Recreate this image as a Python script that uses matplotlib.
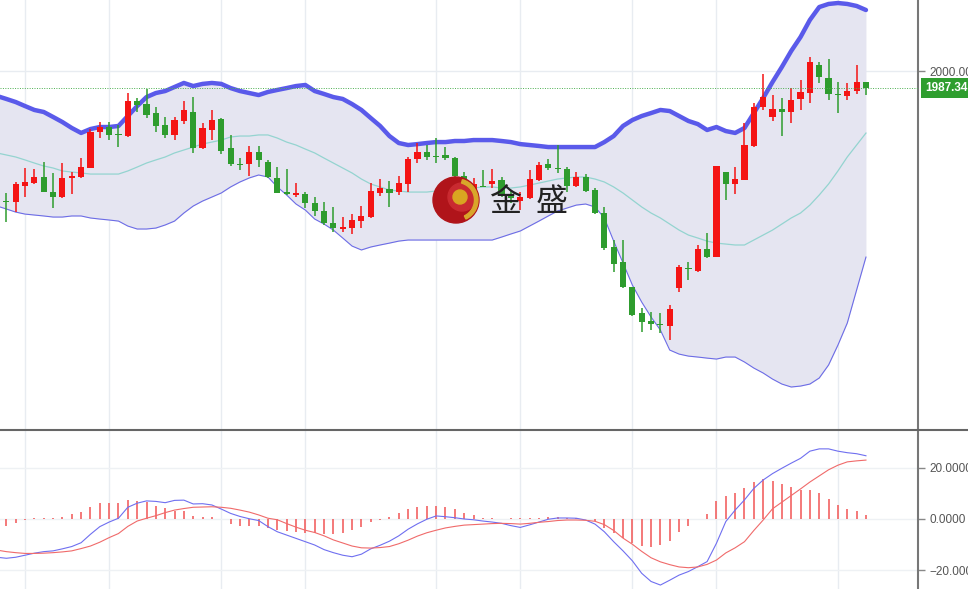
import matplotlib.pyplot as plt
from matplotlib.patches import Circle, Wedge
from matplotlib.lines import Line2D
import numpy as np

# 日K线数据 (开, 高, 低, 收)
opens = [1907.7, 1903.2, 1902.5, 1914.4, 1916.6, 1921.1, 1909.9, 1906.2, 1920.4, 1921.1,
         1927.8, 1954.6, 1958.3, 1953.1, 1951.6, 1977.7, 1975.4, 1968.7, 1959.8, 1952.4,
         1962.8, 1969.5, 1942.7, 1956.1, 1964.3, 1942.7, 1930.8, 1930.8, 1939.7, 1932.3,
         1920.4, 1909.9, 1907.7, 1908.4, 1901.7, 1895.8, 1886.9, 1882.4, 1883.1, 1888.3,
         1891.3, 1909.2, 1912.2, 1909.9, 1915.9, 1934.5, 1939.7, 1936.7, 1937.5, 1935.2,
         1921.8, 1912.2, 1914.4, 1915.9, 1918.9, 1907.7, 1903.2, 1905.5, 1918.9, 1930.8,
         1927.8, 1927.1, 1914.4, 1921.1, 1911.4, 1894.3, 1869.0, 1857.8, 1839.2, 1819.9,
         1813.9, 1811.7, 1810.2, 1838.5, 1853.4, 1851.1, 1867.5, 1861.5, 1924.8, 1915.9,
         1918.9, 1944.2, 1973.2, 1965.8, 1971.7, 1969.5, 1979.2, 1983.6, 2004.5, 1994.8,
         1982.9, 1981.4, 1985.1, 1991.8]
highs = [1909.2, 1909.2, 1917.4, 1927.8, 1927.1, 1932.3, 1924.1, 1931.5, 1924.8, 1935.2,
         1956.8, 1962.0, 1962.0, 1959.8, 1983.6, 1979.9, 1986.6, 1973.2, 1965.8, 1965.8,
         1977.7, 1980.6, 1961.3, 1971.0, 1965.0, 1952.4, 1935.2, 1944.2, 1944.2, 1933.8,
         1928.5, 1927.1, 1916.6, 1909.9, 1906.2, 1902.5, 1898.8, 1891.3, 1893.5, 1899.5,
         1916.6, 1919.6, 1918.1, 1921.8, 1936.0, 1946.4, 1944.9, 1950.1, 1943.4, 1936.0,
         1924.8, 1920.4, 1926.3, 1927.1, 1921.1, 1911.4, 1909.9, 1926.3, 1932.3, 1934.5,
         1944.9, 1928.5, 1924.8, 1923.3, 1912.9, 1898.8, 1874.2, 1874.2, 1839.2, 1823.6,
         1820.6, 1819.9, 1825.8, 1855.6, 1857.8, 1870.5, 1879.4, 1929.3, 1924.8, 1928.5,
         1961.3, 1976.2, 1997.8, 1982.1, 1979.9, 1987.3, 1993.3, 2010.4, 2006.7, 2008.9,
         1991.8, 1991.1, 2004.5, 1991.8]
lows = [1901.0, 1887.6, 1895.0, 1906.2, 1915.9, 1909.9, 1898.0, 1905.5, 1908.4, 1920.4,
        1927.8, 1950.1, 1948.6, 1943.4, 1950.9, 1969.5, 1965.0, 1954.6, 1950.1, 1948.6,
        1960.5, 1939.0, 1941.9, 1948.6, 1938.2, 1929.3, 1926.3, 1921.8, 1928.5, 1920.4,
        1909.2, 1907.7, 1906.2, 1898.0, 1892.1, 1885.4, 1880.2, 1880.2, 1878.7, 1883.1,
        1890.6, 1907.0, 1898.8, 1907.7, 1909.9, 1931.5, 1933.8, 1931.5, 1933.8, 1920.4,
        1911.4, 1911.4, 1913.7, 1912.9, 1906.2, 1901.7, 1896.5, 1904.7, 1918.1, 1926.3,
        1924.1, 1909.9, 1913.7, 1909.9, 1893.5, 1866.8, 1850.4, 1838.5, 1817.6, 1805.7,
        1807.2, 1805.0, 1799.8, 1835.5, 1844.4, 1850.4, 1860.8, 1861.5, 1904.0, 1908.4,
        1918.9, 1943.4, 1971.0, 1962.8, 1951.6, 1961.3, 1971.0, 1976.2, 1991.1, 1978.4,
        1968.7, 1978.4, 1982.9, 1982.1]
closes = [1902.5, 1902.5, 1915.9, 1917.4, 1921.1, 1909.9, 1906.2, 1920.4, 1921.8, 1928.5,
          1954.6, 1958.3, 1952.4, 1952.4, 1977.7, 1974.7, 1967.2, 1959.1, 1952.4, 1963.5,
          1971.0, 1942.7, 1957.6, 1963.5, 1940.5, 1930.8, 1930.0, 1939.7, 1933.8, 1921.1,
          1909.2, 1908.4, 1909.2, 1901.7, 1895.8, 1886.9, 1883.1, 1883.9, 1889.1, 1892.1,
          1910.7, 1912.9, 1909.2, 1916.6, 1934.5, 1939.7, 1936.0, 1936.0, 1935.2, 1921.8,
          1912.9, 1915.9, 1913.7, 1918.1, 1907.7, 1905.5, 1906.2, 1919.6, 1930.0, 1927.8,
          1927.1, 1914.4, 1921.1, 1910.7, 1894.3, 1868.2, 1856.3, 1839.2, 1818.4, 1813.2,
          1811.7, 1811.0, 1822.8, 1854.1, 1852.6, 1867.5, 1861.5, 1929.3, 1915.9, 1919.6,
          1944.9, 1973.2, 1980.6, 1971.7, 1969.5, 1978.4, 1984.4, 2006.7, 1995.5, 1982.9,
          1982.1, 1985.1, 1991.8, 1987.34]

# 布林带 上轨 / 中轨 / 下轨
upper = [1981.4, 1979.2, 1976.9, 1973.9, 1971.0, 1969.5, 1965.8, 1962.0, 1957.6, 1953.9,
         1956.8, 1958.3, 1958.3, 1959.1, 1966.5, 1973.9, 1980.6, 1983.6, 1985.1, 1988.1,
         1991.1, 1988.8, 1990.4, 1991.1, 1990.4, 1987.3, 1985.1, 1983.6, 1982.1, 1984.4,
         1985.9, 1987.3, 1988.8, 1989.6, 1985.1, 1982.9, 1980.6, 1979.2, 1975.4, 1971.0,
         1965.0, 1959.1, 1951.6, 1946.4, 1944.9, 1945.6, 1946.4, 1947.1, 1947.1, 1947.9,
         1947.9, 1948.6, 1948.6, 1948.6, 1947.9, 1947.1, 1945.6, 1944.9, 1944.2, 1943.4,
         1943.4, 1943.4, 1943.4, 1943.4, 1943.4, 1947.1, 1951.6, 1959.1, 1963.5, 1966.5,
         1968.7, 1971.0, 1970.2, 1966.5, 1962.8, 1960.5, 1956.1, 1958.3, 1955.3, 1953.9,
         1957.6, 1968.7, 1979.9, 1991.8, 2003.0, 2014.9, 2025.3, 2038.0, 2047.6, 2049.9,
         2050.6, 2049.9, 2048.4, 2045.4]
middle = [1939.0, 1937.5, 1936.0, 1933.8, 1931.5, 1929.3, 1927.8, 1925.6, 1924.8, 1924.1,
          1923.3, 1923.3, 1923.3, 1923.3, 1925.6, 1928.5, 1931.5, 1933.8, 1936.0, 1939.0,
          1941.2, 1943.4, 1945.7, 1947.1, 1948.6, 1950.9, 1951.6, 1951.6, 1952.4, 1952.4,
          1950.1, 1947.1, 1944.9, 1941.9, 1939.0, 1935.2, 1931.5, 1927.8, 1924.1, 1919.6,
          1915.9, 1913.7, 1911.4, 1910.7, 1909.9, 1909.9, 1909.9, 1910.7, 1911.4, 1911.4,
          1912.2, 1912.9, 1913.7, 1913.7, 1912.9, 1912.9, 1913.7, 1915.1, 1916.6, 1918.1,
          1919.6, 1920.4, 1921.1, 1921.1, 1919.6, 1917.4, 1913.7, 1909.2, 1904.0, 1898.8,
          1894.3, 1890.6, 1886.1, 1881.6, 1877.9, 1875.7, 1873.4, 1871.9, 1871.2, 1870.5,
          1870.5, 1874.2, 1877.9, 1881.6, 1886.1, 1890.6, 1894.3, 1900.2, 1907.7, 1915.9,
          1925.6, 1936.0, 1944.9, 1953.8]
lower = [1899.5, 1897.3, 1895.0, 1893.5, 1892.8, 1892.1, 1891.3, 1891.3, 1892.1, 1892.1,
         1890.6, 1889.8, 1889.1, 1888.3, 1884.6, 1882.4, 1882.4, 1883.1, 1885.4, 1888.3,
         1894.3, 1899.5, 1903.2, 1906.2, 1909.2, 1913.7, 1917.4, 1920.4, 1922.6, 1921.1,
         1913.7, 1907.7, 1901.0, 1896.5, 1889.8, 1886.1, 1881.6, 1875.7, 1869.7, 1866.8,
         1869.0, 1870.5, 1871.9, 1873.4, 1874.2, 1874.2, 1874.2, 1874.2, 1874.2, 1874.2,
         1874.2, 1874.2, 1874.2, 1874.2, 1876.4, 1878.7, 1880.9, 1884.6, 1888.3, 1892.1,
         1895.8, 1898.0, 1900.2, 1901.0, 1898.8, 1890.6, 1873.4, 1857.1, 1840.7, 1828.0,
         1816.9, 1807.2, 1792.3, 1789.3, 1787.8, 1787.1, 1786.3, 1785.6, 1787.1, 1787.1,
         1783.4, 1778.9, 1775.2, 1770.7, 1767.0, 1764.8, 1765.5, 1767.0, 1771.5, 1781.2,
         1796.0, 1812.4, 1837.0, 1861.5]

# MACD: DIF, DEA, 柱
dif = [-15.0, -15.4, -15.0, -14.2, -13.4, -12.8, -12.5, -11.7, -10.8, -9.3,
       -6.0, -3.0, -1.2, 0.3, 4.6, 6.2, 7.1, 6.9, 6.4, 7.3,
       7.4, 5.9, 6.0, 5.5, 3.9, 2.2, 1.0, 0.1, -0.6, -3.0,
       -5.0, -6.3, -7.6, -8.9, -10.2, -12.0, -13.2, -14.2, -14.8, -13.8,
       -11.7, -10.3, -8.7, -6.6, -4.0, -1.9, -0.1, 1.2, 0.9, 0.5,
       0.0, -0.3, -0.8, -1.2, -1.7, -2.6, -3.3, -2.3, -1.2, -0.1,
       0.4, 0.4, 0.3, -0.4, -2.0, -5.0, -8.9, -12.5, -16.4, -21.3,
       -24.5, -25.9, -24.0, -22.0, -20.6, -18.7, -16.7, -9.5, -1.0, 3.5,
       7.5, 12.0, 15.3, 17.8, 19.9, 21.9, 23.8, 26.6, 27.5, 27.5,
       26.6, 26.0, 25.6, 24.8]
dea = [-12.2, -12.8, -13.2, -13.5, -13.5, -13.4, -13.2, -12.9, -12.5, -11.6,
       -10.6, -9.1, -7.3, -5.7, -2.9, -0.8, 0.3, 1.3, 2.5, 3.5,
       4.1, 4.6, 4.7, 4.8, 4.6, 4.2, 3.5, 2.7, 1.6, 0.3,
       -0.3, -1.8, -3.2, -4.4, -5.3, -6.6, -8.2, -9.4, -10.6, -11.3,
       -11.4, -11.2, -10.8, -9.7, -8.3, -6.7, -5.4, -4.4, -3.5, -2.9,
       -2.4, -2.2, -2.0, -1.8, -1.7, -1.8, -2.0, -1.7, -1.3, -1.0,
       -0.6, -0.4, -0.4, -0.5, -0.9, -2.2, -4.5, -7.5, -9.9, -12.7,
       -15.2, -16.8, -17.9, -18.8, -19.1, -18.8, -17.8, -16.1, -13.3, -11.3,
       -8.9, -4.5, -0.4, 4.0, 6.6, 9.2, 11.8, 14.5, 16.9, 19.3,
       21.1, 22.4, 22.8, 23.1]
hist = [-3.0, -2.7, -1.4, -0.3, 0.2, 0.2, 0.3, 0.9, 1.8, 2.9,
        4.6, 6.1, 6.1, 6.1, 7.5, 7.2, 6.8, 5.1, 4.2, 3.3,
        3.3, 1.3, 0.9, 0.9, -0.1, -1.8, -2.9, -2.9, -2.9, -3.5,
        -4.3, -4.8, -5.2, -5.5, -5.5, -5.8, -5.8, -5.5, -4.3, -3.2,
        -1.0, -0.2, 0.9, 2.2, 3.8, 4.8, 5.1, 5.2, 4.8, 3.8,
        2.2, 1.6, 0.5, 0.3, 0.1, 0.3, 0.3, 0.3, 0.5, 0.8,
        0.7, 0.5, 0.4, 0.0, -0.7, -3.7, -5.6, -7.6, -9.5, -10.6,
        -10.8, -10.2, -8.5, -5.0, -2.7, -0.1, 1.8, 7.1, 9.0, 10.3,
        12.0, 14.6, 15.6, 15.0, 13.7, 12.7, 11.4, 11.4, 10.3, 7.8,
        5.5, 3.8, 3.1, 1.6]

# 竖向网格所在的K线序号
grid_idx = [3, 12, 24, 33, 47, 56, 68, 77, 90]
last_price = closes[-1]

plt.rcParams['font.family'] = ['Liberation Sans', 'DejaVu Sans']

W, H = 968, 589
fig = plt.figure(figsize=(W / 100, H / 100), dpi=100)
fig.patch.set_facecolor('white')

ax = fig.add_axes([0, 159 / H, 918 / W, 430 / H])
axm = fig.add_axes([0, 0, 918 / W, 159 / H])

idx = np.arange(len(closes))
x_left, x_right = 0.32, 98.57

# ---- 主图 ----
for g in grid_idx:
    ax.axvline(g, color='#e8ecf1', lw=1, zorder=0)
ax.axhline(2000, color='#e8ecf1', lw=1, zorder=0)

ax.fill_between(idx, lower, upper, color='#e5e5f1', lw=0, zorder=1)
ax.plot(idx, upper, color='#5a5aea', lw=3.2, zorder=2, solid_capstyle='round')
ax.plot(idx, middle, color='#94d4d0', lw=0.9, zorder=2)
ax.plot(idx, lower, color='#6c6ce6', lw=0.8, zorder=2)

cols = ['#f41414' if c >= o else '#2e9c2e' for o, c in zip(opens, closes)]
bottoms = [min(o, c) for o, c in zip(opens, closes)]
heights = [max(abs(c - o), 0.9) for o, c in zip(opens, closes)]
ax.vlines(idx, lows, highs, colors=cols, lw=1.1, zorder=3)
ax.bar(idx, heights, bottom=bottoms, width=0.66, color=cols, lw=0, zorder=4)

ax.axhline(last_price, color='#4caf50', lw=0.7, ls=(0, (1, 1.5)), zorder=5)

ax.set_xlim(x_left, x_right)
ax.set_ylim(1732.8, 2052.85)
ax.set_xticks([])
ax.yaxis.tick_right()
ax.set_yticks([2000])
ax.set_yticklabels(['2000.00'])
ax.tick_params(axis='y', length=5, width=1, color='#888888', labelcolor='#555555',
               labelsize=8.5, pad=3)
for s in ['top', 'left', 'bottom']:
    ax.spines[s].set_visible(False)
ax.spines['right'].set_color('#777777')
ax.spines['right'].set_linewidth(1.5)

ax.annotate('1987.34', xy=(1, last_price), xycoords=('axes fraction', 'data'),
            xytext=(5, 0), textcoords='offset points', ha='left', va='center',
            color='white', fontsize=8.5, fontweight='bold', annotation_clip=False,
            bbox=dict(boxstyle='square,pad=0.3', fc='#2f9e2f', ec='none'))

# ---- MACD ----
for g in grid_idx:
    axm.axvline(g, color='#e8ecf1', lw=1, zorder=0)
for h in [-20, 0, 20]:
    axm.axhline(h, color='#eef1f4', lw=1, zorder=0)
axm.vlines(idx, 0, hist, colors='#f26262', lw=1.2, zorder=2)
axm.plot(idx, dif, color='#6f6ff0', lw=0.8, zorder=3)
axm.plot(idx, dea, color='#f06a6a', lw=0.8, zorder=3)

axm.set_xlim(x_left, x_right)
axm.set_ylim(-27.45, 34.9)
axm.set_xticks([])
axm.yaxis.tick_right()
axm.set_yticks([-20, 0, 20])
axm.set_yticklabels(['\u221220.0000', '0.0000', '20.0000'])
axm.tick_params(axis='y', length=5, width=1, color='#888888', labelcolor='#555555',
                labelsize=8.5, pad=3)
for s in ['top', 'left', 'bottom']:
    axm.spines[s].set_visible(False)
axm.spines['right'].set_color('#777777')
axm.spines['right'].set_linewidth(1.5)

# 分隔线
fig.add_artist(Line2D([0, 1], [159 / H, 159 / H], color='#666666', lw=1.5))

# ---- 水印 ----
ov = fig.add_axes([0, 0, 1, 1], zorder=10)
ov.set_xlim(0, W)
ov.set_ylim(H, 0)
ov.axis('off')
ov.patch.set_alpha(0)
ov.add_patch(Circle((456, 200), 23, color='#b0141a'))
ov.add_patch(Circle((462, 197), 14, color='#c92a30'))
ov.add_patch(Wedge((457, 200), 21, -75, 65, width=3.5, color='#d9a62a'))
ov.add_patch(Circle((460, 197), 7, color='#d9a521'))
ov.text(506, 202, '金', fontsize=23, family='Noto Sans CJK SC', ha='center', va='center',
        color='#222222')
ov.text(552, 202, '盛', fontsize=23, family='Noto Sans CJK SC', ha='center', va='center',
        color='#222222')

fig.savefig('out.png', dpi=100)
